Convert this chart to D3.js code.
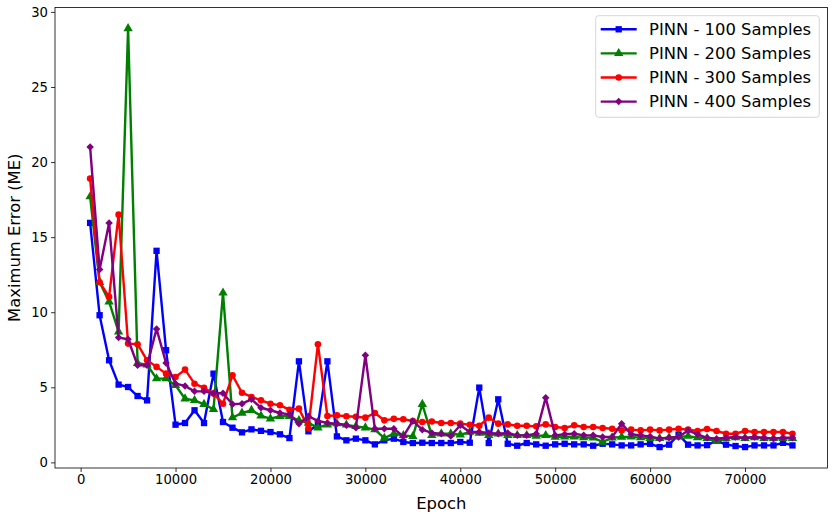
<!DOCTYPE html>
<html>
<head>
<meta charset="utf-8">
<script src="https://cdn.jsdelivr.net/npm/d3@7"></script>
<style>
  body { margin: 0; background: #fff; }
  svg { display: block; font-family: "DejaVu Sans", sans-serif; }
</style>
</head>
<body>
<svg id="chart" width="835" height="519"></svg>
<script>
// Data
const epochs = [
  1000, 2000, 3000, 4000, 5000, 6000, 7000, 8000, 9000, 10000,
  11000, 12000, 13000, 14000, 15000, 16000, 17000, 18000, 19000, 20000,
  21000, 22000, 23000, 24000, 25000, 26000, 27000, 28000, 29000, 30000,
  31000, 32000, 33000, 34000, 35000, 36000, 37000, 38000, 39000, 40000,
  41000, 42000, 43000, 44000, 45000, 46000, 47000, 48000, 49000, 50000,
  51000, 52000, 53000, 54000, 55000, 56000, 57000, 58000, 59000, 60000,
  61000, 62000, 63000, 64000, 65000, 66000, 67000, 68000, 69000, 70000,
  71000, 72000, 73000, 74000, 75000
];

const pinn100 = [
  15.95, 9.8, 6.8, 5.18, 5.02, 4.42, 4.13, 14.09, 7.47, 2.51,
  2.62, 3.47, 2.62, 5.91, 2.69, 2.31, 2.0, 2.2, 2.1, 2.02,
  1.87, 1.62, 6.73, 2.07, 2.5, 6.73, 1.73, 1.47, 1.58, 1.47,
  1.2, 1.47, 1.58, 1.36, 1.29, 1.31, 1.29, 1.29, 1.29, 1.36,
  1.31, 4.98, 1.29, 4.2, 1.24, 1.11, 1.29, 1.2, 1.11, 1.2,
  1.24, 1.2, 1.2, 1.11, 1.24, 1.2, 1.13, 1.13, 1.2, 1.24,
  1.02, 1.18, 1.85, 1.18, 1.13, 1.15, 1.45, 1.18, 1.09, 1.02,
  1.13, 1.13, 1.13, 1.3, 1.13
];

const pinn200 = [
  17.7, 12.0, 10.7, 8.69, 28.9, 6.6, 6.5, 5.58, 5.58, 5.13,
  4.24, 4.13, 3.87, 3.53, 11.29, 2.98, 3.29, 3.47, 3.1, 2.91,
  3.07, 3.07, 2.8, 2.62, 2.31, 2.51, 2.58, 2.5, 2.4, 2.31,
  2.18, 1.62, 1.91, 1.8, 1.73, 3.87, 1.8, 1.91, 1.91, 1.84,
  2.02, 1.96, 1.8, 1.91, 1.8, 1.8, 1.8, 1.76, 1.8, 1.69,
  1.7, 1.7, 1.65, 1.64, 1.36, 1.64, 1.69, 1.7, 1.65, 1.6,
  1.6, 1.65, 1.7, 1.75, 1.65, 1.6, 1.4, 1.6, 1.65, 1.6,
  1.65, 1.6, 1.6, 1.6, 1.6
];

const pinn300 = [
  18.9, 12.0, 11.02, 16.5, 7.91, 7.87, 6.8, 6.36, 5.91, 5.69,
  6.18, 5.24, 4.96, 4.58, 3.91, 5.8, 4.64, 4.36, 4.13, 3.91,
  3.8, 3.51, 3.58, 2.29, 7.87, 3.09, 3.13, 3.07, 3.04, 2.98,
  3.29, 2.8, 2.9, 2.87, 2.76, 2.69, 2.72, 2.62, 2.62, 2.58,
  2.51, 2.44, 2.98, 2.58, 2.53, 2.44, 2.44, 2.4, 2.53, 2.36,
  2.29, 2.47, 2.36, 2.36, 2.29, 2.24, 2.13, 2.18, 2.13, 2.18,
  2.13, 2.18, 2.24, 2.18, 2.09, 2.22, 2.09, 1.91, 1.91, 2.09,
  2.02, 2.02, 2.02, 2.02, 1.91
];

const pinn400 = [
  21.0, 12.84, 15.95, 8.31, 8.2, 6.47, 6.47, 8.89, 6.62, 5.24,
  5.09, 4.73, 4.73, 4.6, 4.6, 3.87, 3.91, 4.2, 3.64, 3.47,
  3.29, 3.2, 2.58, 3.07, 2.76, 2.62, 2.58, 2.47, 2.31, 7.13,
  2.24, 2.24, 2.24, 1.73, 2.76, 2.18, 1.96, 1.91, 1.76, 2.47,
  2.02, 2.02, 1.96, 1.91, 1.96, 1.8, 1.8, 1.91, 4.31, 1.8,
  1.87, 1.91, 1.8, 1.8, 1.69, 1.69, 2.58, 1.87, 1.8, 1.73,
  1.58, 1.64, 1.69, 2.13, 1.87, 1.64, 1.58, 1.64, 1.69, 1.64,
  1.69, 1.64, 1.58, 1.64, 1.64
];

const xTicks = [0, 10000, 20000, 30000, 40000, 50000, 60000, 70000];
const yTicks = [0, 5, 10, 15, 20, 25, 30];

const seriesNames = ["PINN - 100 Samples", "PINN - 200 Samples", "PINN - 300 Samples", "PINN - 400 Samples"];
const seriesValues = [pinn100, pinn200, pinn300, pinn400];
const seriesColors = ["blue", "green", "red", "purple"];
const seriesMarkers = ["square", "triangle", "circle", "diamond"];

// Layout
const svg = d3.select("#chart");
const plot = { left: 55, right: 827.6, top: 7.5, bottom: 468 };

// matplotlib-style 5% margins
const xExt = d3.extent(epochs);
const xPad = (xExt[1] - xExt[0]) * 0.05;
const allVals = seriesValues.flat();
const yExt = d3.extent(allVals);
const yPad = (yExt[1] - yExt[0]) * 0.05;

const x = d3.scaleLinear()
  .domain([xExt[0] - xPad, xExt[1] + xPad])
  .range([plot.left, plot.right]);
const y = d3.scaleLinear()
  .domain([yExt[0] - yPad, yExt[1] + yPad])
  .range([plot.bottom, plot.top]);

function markerPath(kind) {
  if (kind === "square") return d3.symbol(d3.symbolSquare, 40)();
  if (kind === "triangle") return d3.symbol(d3.symbolTriangle, 38)();
  if (kind === "circle") return d3.symbol(d3.symbolCircle, 34)();
  return d3.symbol(d3.symbolSquare, 28)();
}

// Axes
const tickFont = 13.2;
const labelFont = 16.4;
const xAxis = d3.axisBottom(x).tickValues(xTicks).tickSize(4).tickPadding(3).tickFormat(d => String(d));
const yAxis = d3.axisLeft(y).tickValues(yTicks).tickSize(4).tickPadding(3).tickFormat(d => String(d));

svg.append("g")
  .attr("transform", `translate(0,${plot.bottom})`)
  .call(xAxis)
  .call(g => g.select(".domain").remove())
  .call(g => g.selectAll("text").attr("font-size", tickFont).attr("fill", "#000").attr("font-family", "DejaVu Sans"))
  .call(g => g.selectAll("line").attr("stroke", "#000").attr("stroke-width", 0.8));

svg.append("g")
  .attr("transform", `translate(${plot.left},0)`)
  .call(yAxis)
  .call(g => g.select(".domain").remove())
  .call(g => g.selectAll("text").attr("font-size", tickFont).attr("fill", "#000").attr("font-family", "DejaVu Sans"))
  .call(g => g.selectAll("line").attr("stroke", "#000").attr("stroke-width", 0.8));

// Series
const line = d3.line()
  .x((d, i) => x(epochs[i]))
  .y(d => y(d));

seriesValues.forEach((vals, s) => {
  const g = svg.append("g");
  g.append("path")
    .datum(vals)
    .attr("fill", "none")
    .attr("stroke", seriesColors[s])
    .attr("stroke-width", 2.4)
    .attr("stroke-linejoin", "round")
    .attr("d", line);
  g.selectAll("path.mk")
    .data(vals)
    .join("path")
    .attr("class", "mk")
    .attr("d", markerPath(seriesMarkers[s]))
    .attr("fill", seriesColors[s])
    .attr("transform", (d, i) =>
      `translate(${x(epochs[i])},${y(d)})` + (seriesMarkers[s] === "diamond" ? " rotate(45)" : ""));
});

// Frame
svg.append("rect")
  .attr("x", plot.left)
  .attr("y", plot.top)
  .attr("width", plot.right - plot.left)
  .attr("height", plot.bottom - plot.top)
  .attr("fill", "none")
  .attr("stroke", "#000")
  .attr("stroke-width", 0.8);

// Axis labels
svg.append("text")
  .attr("x", (plot.left + plot.right) / 2)
  .attr("y", 509)
  .attr("text-anchor", "middle")
  .attr("font-size", labelFont)
  .text("Epoch");

svg.append("text")
  .attr("transform", `translate(20,${(plot.top + plot.bottom) / 2}) rotate(-90)`)
  .attr("text-anchor", "middle")
  .attr("font-size", labelFont)
  .text("Maximum Error (ME)");

// Legend
const legend = svg.append("g");
legend.append("rect")
  .attr("x", 595.7)
  .attr("y", 15.7)
  .attr("width", 223.6)
  .attr("height", 101.6)
  .attr("rx", 3)
  .attr("fill", "#fff")
  .attr("fill-opacity", 0.8)
  .attr("stroke", "#cccccc")
  .attr("stroke-width", 0.8);

seriesNames.forEach((name, s) => {
  const ly = 29.3 + s * 24.1;
  legend.append("line")
    .attr("x1", 600.7).attr("x2", 636.7)
    .attr("y1", ly).attr("y2", ly)
    .attr("stroke", seriesColors[s])
    .attr("stroke-width", 2.4);
  legend.append("path")
    .attr("d", markerPath(seriesMarkers[s]))
    .attr("fill", seriesColors[s])
    .attr("transform", `translate(618.7,${ly})` + (seriesMarkers[s] === "diamond" ? " rotate(45)" : ""));
  legend.append("text")
    .attr("x", 649)
    .attr("y", ly)
    .attr("dy", "0.35em")
    .attr("font-size", labelFont)
    .text(name);
});
</script>
</body>
</html>
